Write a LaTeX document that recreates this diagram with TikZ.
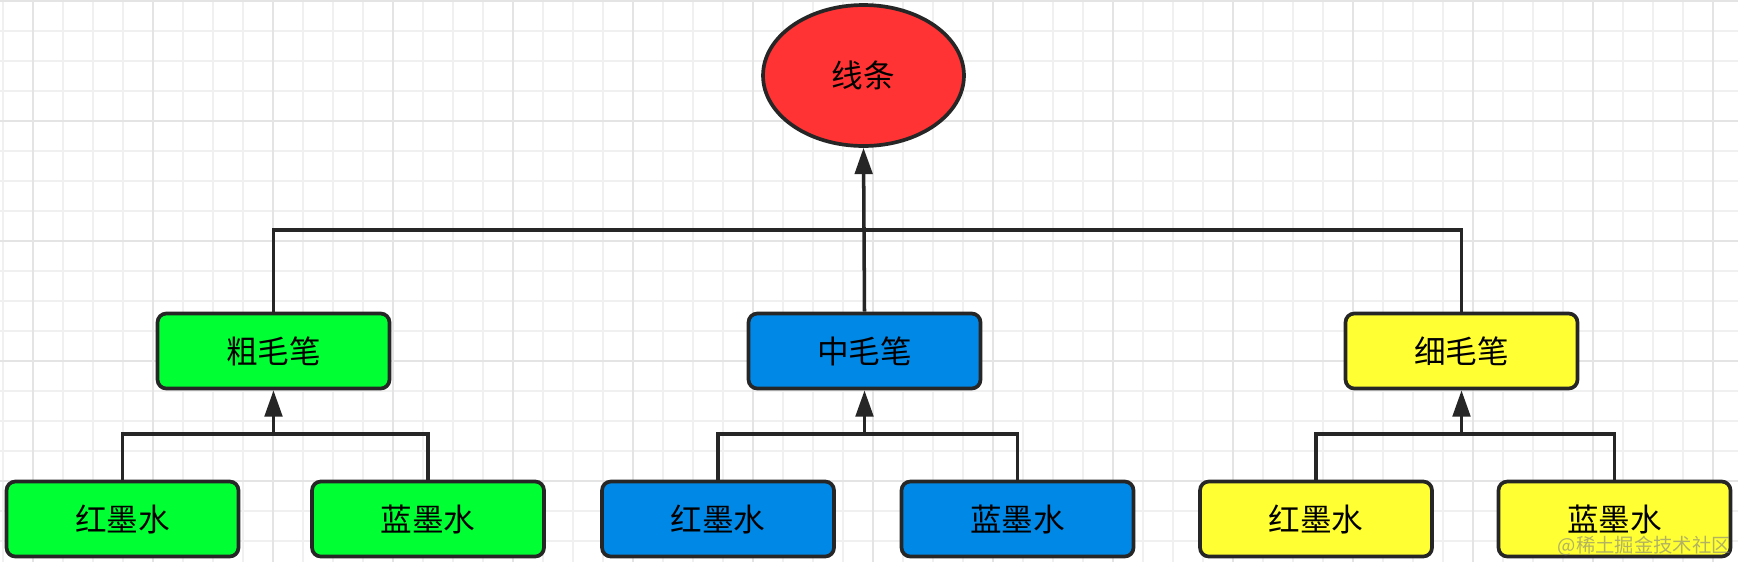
\documentclass[tikz,border=0pt]{standalone}
\usepackage{fontspec}
\setmainfont{Noto Sans CJK SC}
\definecolor{PenGreen}{HTML}{00FF33}
\definecolor{PenBlue}{HTML}{0088E6}
\definecolor{PenYellow}{HTML}{FFFF33}
\definecolor{LineRed}{HTML}{FF3333}
\definecolor{EdgeGray}{HTML}{262626}
\definecolor{GridMinor}{HTML}{F0F0F0}
\definecolor{GridMajor}{HTML}{E4E4E4}
\usetikzlibrary{positioning,shapes.geometric,arrows.meta,calc}

\begin{document}
\begin{tikzpicture}[x=0.02cm, y=-0.02cm, font=\fontsize{18pt}{21pt}\selectfont,
  penbox/.style={draw=EdgeGray, line width=2.1pt, rounded corners=5pt, minimum width=4.64cm, minimum height=1.5cm, inner sep=0pt},
  wire/.style={draw=EdgeGray, line width=2pt},
  uparrow/.style={wire, -{Triangle[length=15pt,width=10pt]}}]
  \useasboundingbox (0,0) rectangle (1738,562);
  \fill[white] (0,0) rectangle (1738,562);
  % grid
  \foreach \gx in {3,33,...,1713} \draw[GridMinor, line width=0.8pt] (\gx,0) -- (\gx,562);
  \foreach \gy in {1,31,...,541} \draw[GridMinor, line width=0.8pt] (0,\gy) -- (1738,\gy);
  \foreach \gx in {33,153,...,1713} \draw[GridMajor, line width=1pt] (\gx,0) -- (\gx,562);
  \foreach \gy in {1,121,...,481} \draw[GridMajor, line width=1pt] (0,\gy) -- (1738,\gy);

  \node[ellipse, draw=EdgeGray, line width=2.1pt, fill=LineRed, minimum width=4.02cm, minimum height=2.82cm, inner sep=0pt] (lines) at (863.5,75.5) {线条};

  \node[penbox, fill=PenGreen] (cu) at (273.5,351) {粗毛笔};
  \node[penbox, fill=PenBlue] (zhong) at (864.5,351) {中毛笔};
  \node[penbox, fill=PenYellow] (xi) at (1461.5,351) {细毛笔};

  \node[penbox, fill=PenGreen] (cuhong) at (122.5,519) {红墨水};
  \node[penbox, fill=PenGreen] (culan) at (428,519) {蓝墨水};
  \node[penbox, fill=PenBlue] (zhonghong) at (718,519) {红墨水};
  \node[penbox, fill=PenBlue] (zhonglan) at (1017.5,519) {蓝墨水};
  \node[penbox, fill=PenYellow] (xihong) at (1316,519) {红墨水};
  \node[penbox, fill=PenYellow] (xilan) at (1614.5,519) {蓝墨水};

  \coordinate (bar) at (864.5,230);
  \coordinate (cuj) at (273.5,434);
  \coordinate (zhongj) at (864.5,434);
  \coordinate (xij) at (1461.5,434);

  \draw[wire] (cu.north) |- (bar) -| (xi.north);
  \draw[uparrow] (zhong.north) -- (lines.south);

  \draw[wire] (cuhong.north) |- (cuj) -| (culan.north);
  \draw[uparrow] (cuj) -- (cu.south);
  \draw[wire] (zhonghong.north) |- (zhongj) -| (zhonglan.north);
  \draw[uparrow] (zhongj) -- (zhong.south);
  \draw[wire] (xihong.north) |- (xij) -| (xilan.north);
  \draw[uparrow] (xij) -- (xi.south);

  \node[anchor=east, text=gray, opacity=0.6, font=\fontsize{11pt}{13pt}\selectfont, inner sep=0pt] (mark) at (1731,546) {@稀土掘金技术社区};
\end{tikzpicture}
\end{document}
